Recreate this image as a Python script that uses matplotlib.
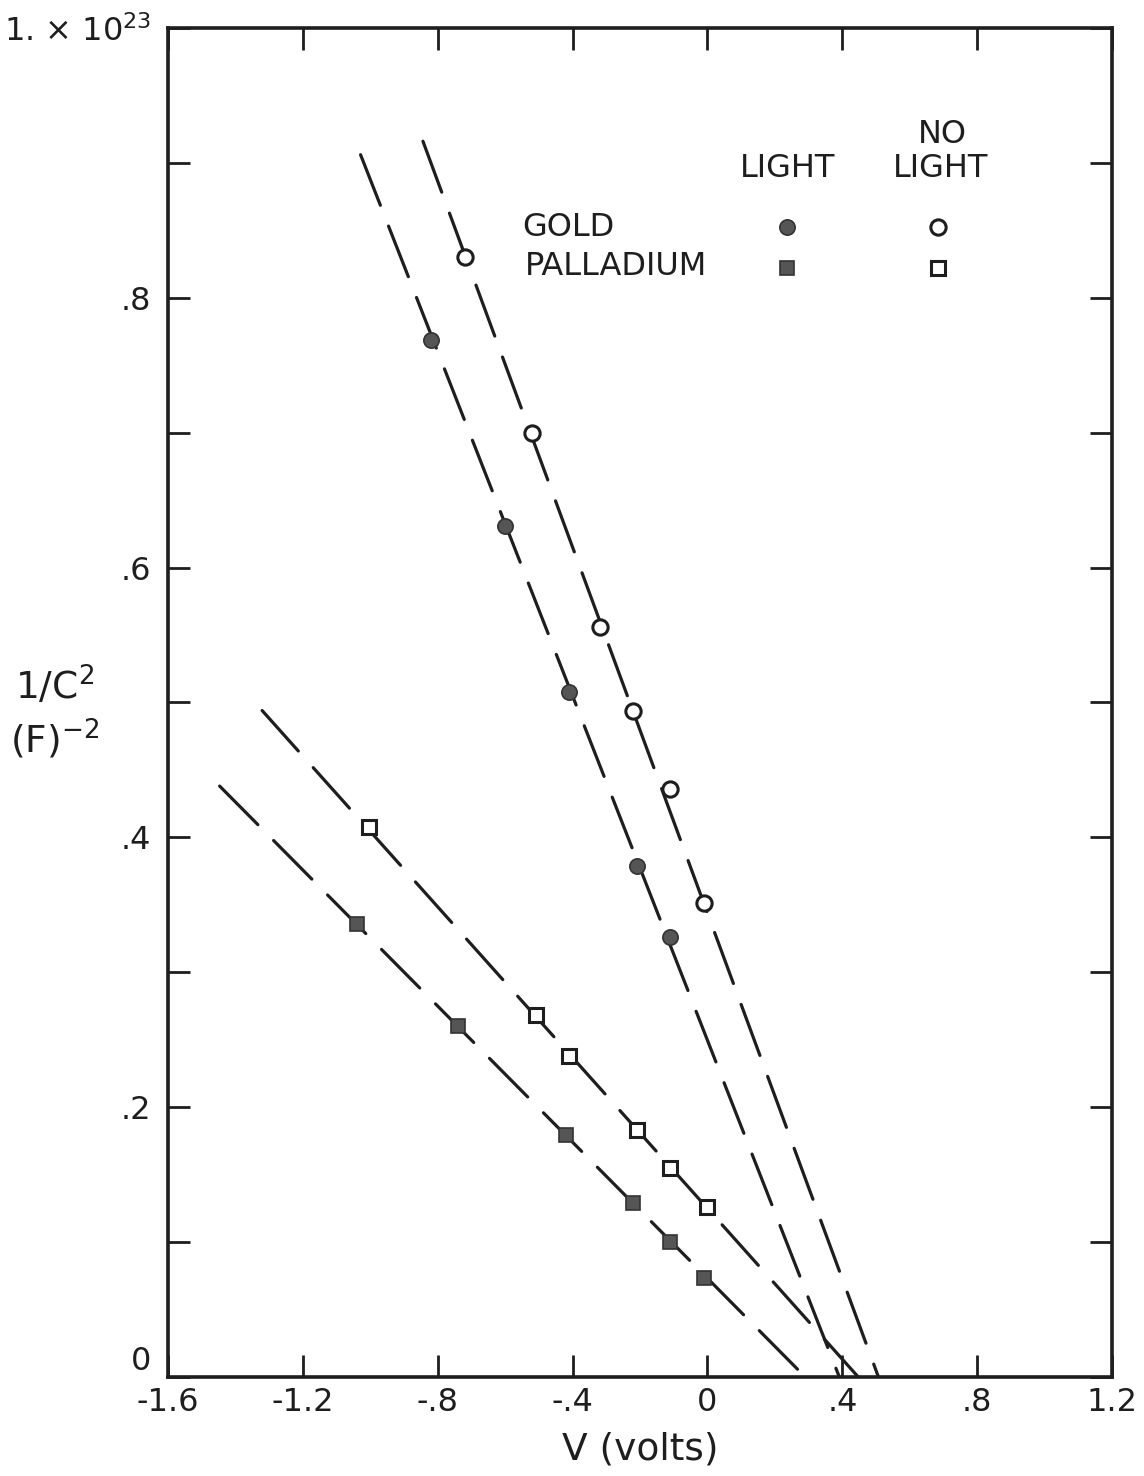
import matplotlib
matplotlib.use("Agg")
import matplotlib.pyplot as plt
import numpy as np

plt.rcParams['font.family'] = ['DejaVu Sans']
plt.rcParams['mathtext.default'] = 'regular'

# measured points, V (volts) vs 1/C^2 (units of 1e23 F^-2)
gold_light_v = [-0.82, -0.60, -0.41, -0.21, -0.11]
gold_light_c = [0.769, 0.631, 0.508, 0.379, 0.326]
gold_dark_v = [-0.72, -0.52, -0.32, -0.22, -0.11, -0.01]
gold_dark_c = [0.830, 0.700, 0.556, 0.494, 0.436, 0.351]
pd_light_v = [-1.04, -0.74, -0.42, -0.22, -0.11, -0.01]
pd_light_c = [0.336, 0.260, 0.179, 0.129, 0.100, 0.073]
pd_dark_v = [-1.005, -0.51, -0.41, -0.21, -0.11, 0.0]
pd_dark_c = [0.408, 0.268, 0.238, 0.183, 0.155, 0.126]

# dashed fit lines (end points)
gold_light_fit_v = [-1.029, 0.391]
gold_light_fit_c = [0.906, 0.0]
gold_dark_fit_v = [-0.844, 0.507]
gold_dark_fit_c = [0.916, 0.0]
pd_light_fit_v = [-1.447, 0.27]
pd_light_fit_c = [0.438, 0.005]
pd_dark_fit_v = [-1.321, 0.447]
pd_dark_fit_c = [0.494, 0.0]

xticks = [-1.6, -1.2, -0.8, -0.4, 0.0, 0.4, 0.8, 1.2]
xticklabels = ['-1.6', '-1.2', '-.8', '-.4', '0', '.4', '.8', '1.2']
yticks = [0.0, 0.1, 0.2, 0.3, 0.4, 0.5, 0.6, 0.7, 0.8, 0.9, 1.0]
yticklabels = ['0', '', '.2', '', '.4', '', '.6', '', '.8', '', r'1. $\times$ 10$^{23}$']

ink = '#1e1e1e'
fill = '#555555'

fig = plt.figure(figsize=(11.44, 14.76), dpi=100)
ax = fig.add_axes([0.1469, 0.0671, 0.8252, 0.9140])

fits = [(gold_light_fit_v, gold_light_fit_c), (gold_dark_fit_v, gold_dark_fit_c),
        (pd_light_fit_v, pd_light_fit_c), (pd_dark_fit_v, pd_dark_fit_c)]
for fv, fc in fits:
    ln, = ax.plot(fv, fc, color=ink, lw=2.3, solid_capstyle='round', dash_capstyle='round', zorder=2)
    ln.set_dashes((17, 7))

ax.plot(gold_light_v, gold_light_c, 'o', ms=11, mfc=fill, mec='#333333', mew=1.2, zorder=3)
ax.plot(gold_dark_v, gold_dark_c, 'o', ms=11, mfc='white', mec=ink, mew=2.2, zorder=3)
ax.plot(pd_light_v, pd_light_c, 's', ms=10.5, mfc=fill, mec='#333333', mew=1.2, zorder=3)
ax.plot(pd_dark_v, pd_dark_c, 's', ms=10.5, mfc='white', mec=ink, mew=2.2, zorder=3)

# key in upper right
tr = ax.transAxes
ax.text(0.656, 0.8955, 'LIGHT', transform=tr, ha='center', va='center', fontsize=23, color=ink)
ax.text(0.820, 0.9207, 'NO', transform=tr, ha='center', va='center', fontsize=23, color=ink)
ax.text(0.818, 0.8955, 'LIGHT', transform=tr, ha='center', va='center', fontsize=23, color=ink)
ax.text(0.375, 0.8517, 'GOLD', transform=tr, ha='left', va='center', fontsize=23, color=ink)
ax.text(0.378, 0.8228, 'PALLADIUM', transform=tr, ha='left', va='center', fontsize=23, color=ink)
ax.plot([0.656], [0.8525], 'o', ms=11, mfc=fill, mec='#333333', mew=1.2, transform=tr, clip_on=False)
ax.plot([0.816], [0.8525], 'o', ms=11, mfc='white', mec=ink, mew=2.2, transform=tr, clip_on=False)
ax.plot([0.656], [0.8222], 's', ms=10.5, mfc=fill, mec='#333333', mew=1.2, transform=tr, clip_on=False)
ax.plot([0.816], [0.8222], 's', ms=10.5, mfc='white', mec=ink, mew=2.2, transform=tr, clip_on=False)

ax.set_xlim(-1.6, 1.2)
ax.set_ylim(0, 1.0)
ax.set_xticks(xticks)
ax.set_xticklabels(xticklabels)
ax.set_yticks(yticks)
ylabs = ax.set_yticklabels(yticklabels)
ylabs[0].set_va('bottom')
ax.tick_params(direction='in', length=16, width=2.0, color=ink, labelsize=23,
               labelcolor=ink, top=True, right=True, pad=7)
ax.tick_params(axis='y', pad=12)
for s in ax.spines.values():
    s.set_linewidth(2.6)
    s.set_color(ink)

ax.set_xlabel('V (volts)', fontsize=27, color=ink, labelpad=10)
fig.text(0.048, 0.5355, r'1/C$^{2}$', fontsize=27, color=ink, ha='center', va='center')
fig.text(0.048, 0.4995, r'(F)$^{-2}$', fontsize=27, color=ink, ha='center', va='center')

plt.savefig('out.png', dpi=100, facecolor='white')
